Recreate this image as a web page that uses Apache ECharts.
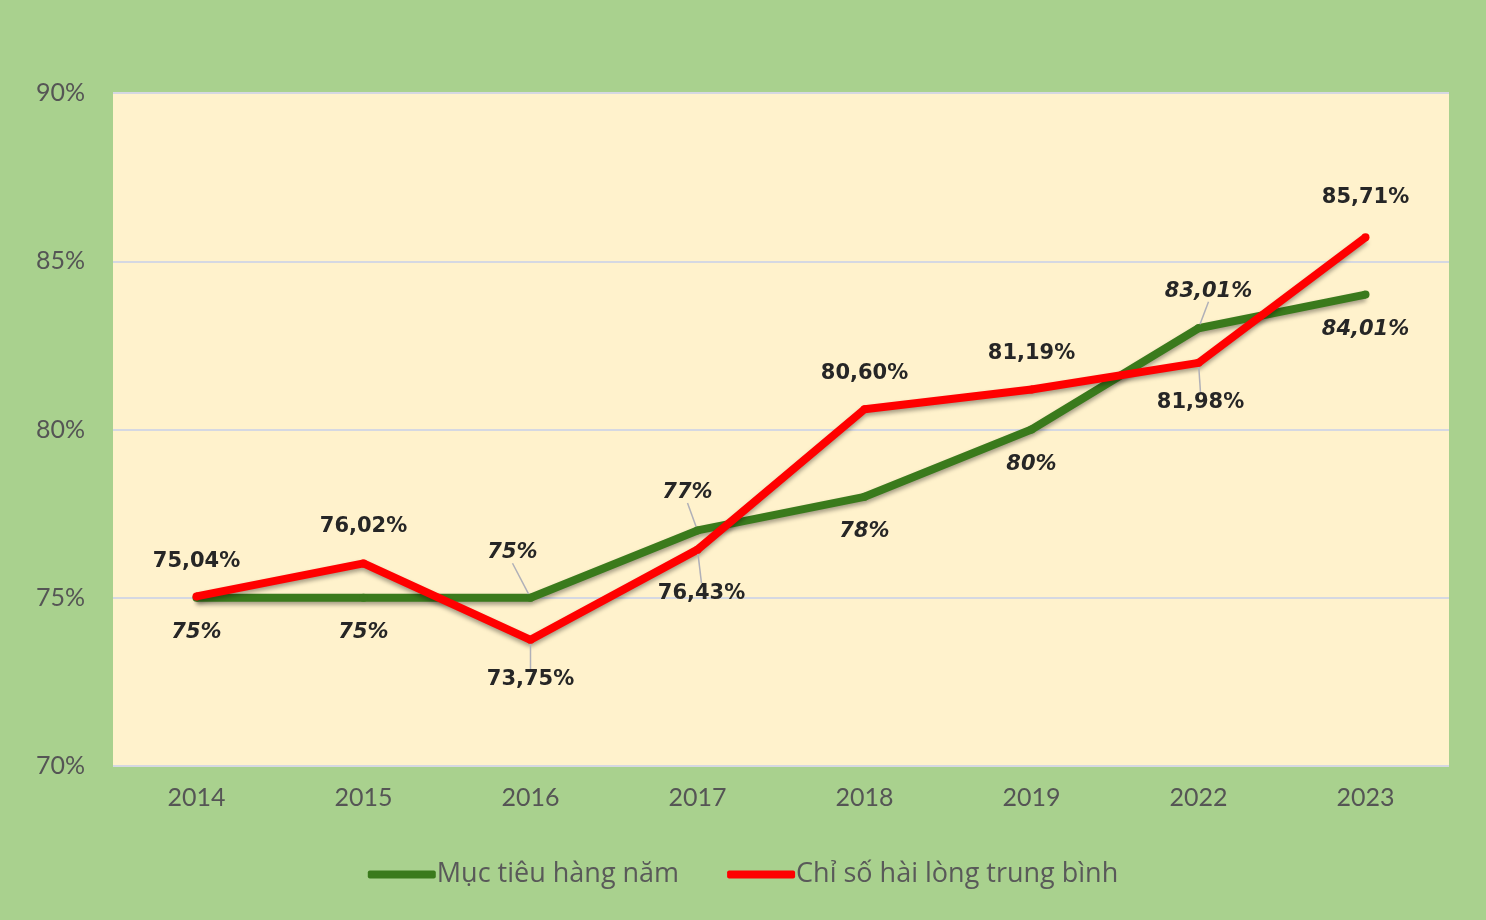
<!DOCTYPE html>
<html>
<head>
<meta charset="utf-8">
<script src="https://cdn.jsdelivr.net/npm/echarts@6/dist/echarts.min.js"></script>
<style>
html,body{margin:0;padding:0;background:#a9d18e;}
#chart{width:1486px;height:920px;}
</style>
</head>
<body>
<div id="chart"></div>
<script>
const categories = ['2014','2015','2016','2017','2018','2019','2022','2023'];
const targetName = 'Mục tiêu hàng năm';
const targetValues = [75, 75, 75, 77, 78, 80, 83.01, 84.01];
const actualName = 'Chỉ số hài lòng trung bình';
const actualValues = [75.04, 76.02, 73.75, 76.43, 80.60, 81.19, 81.98, 85.71];
const yTicks = [70, 75, 80, 85, 90];

// label offsets (pixels) relative to each point, and whether a leader line is drawn
const targetLabelOffsets = [[0,35],[0,35],[-18,-45],[-10,-38],[0,35],[0,35],[10,-37],[0,35]];
const targetLeaders = [false,false,true,true,false,false,true,false];
const actualLabelOffsets = [[0,-35],[0,-37],[0,40],[4,44],[0,-36],[0,-36],[2,40],[0,-40]];
const actualLeaders = [false,false,true,true,false,false,true,false];

const fmtTarget = v => (Number.isInteger(v) ? String(v) : v.toFixed(2).replace('.', ',')) + '%';
const fmtActual = v => v.toFixed(2).replace('.', ',') + '%';

const chart = echarts.init(document.getElementById('chart'), null, {renderer: 'canvas'});

function buildData(values, leaders) {
  return values.map((v, i) => ({
    value: v,
    labelLine: {show: leaders[i], lineStyle: {color: '#b0b0b8', width: 1.5}}
  }));
}

const labelBase = {
  show: true,
  position: 'inside',
  fontFamily: 'DejaVu Sans',
  fontWeight: 'bold',
  fontSize: 21,
  color: '#262626'
};

const option = {
  backgroundColor: '#a9d18e',
  animation: false,
  grid: {
    left: 113, right: 37, top: 93, bottom: 154,
    show: true, backgroundColor: '#fff2cc', borderWidth: 0
  },
  legend: {
    bottom: 27,
    left: 'center',
    itemWidth: 68,
    itemHeight: 8,
    itemGap: 48,
    icon: 'roundRect',
    textStyle: {fontFamily: 'Open Sans', fontSize: 27, color: '#595959', padding: [0,0,0,-4]},
    data: [targetName, actualName]
  },
  xAxis: {
    type: 'category',
    data: categories,
    boundaryGap: true,
    axisLine: {show: false},
    axisTick: {show: false},
    axisLabel: {fontFamily: 'Lato', fontSize: 25, color: '#555555', margin: 19}
  },
  yAxis: {
    type: 'value',
    min: yTicks[0],
    max: yTicks[yTicks.length - 1],
    interval: 5,
    axisLine: {show: false},
    axisTick: {show: false},
    axisLabel: {fontFamily: 'Lato', fontSize: 25, color: '#555555', margin: 28, formatter: '{value}%'},
    splitLine: {lineStyle: {color: '#d5d8e2', width: 2}}
  },
  series: [
    {
      name: targetName,
      type: 'line',
      data: buildData(targetValues, targetLeaders),
      symbol: 'circle',
      symbolSize: 8,
      color: '#3a7a1c',
      itemStyle: {color: '#3a7a1c'},
      lineStyle: {width: 8, color: '#3a7a1c', shadowColor: 'rgba(0,0,0,0.35)', shadowBlur: 4, shadowOffsetY: 3},
      label: Object.assign({}, labelBase, {fontStyle: 'italic', formatter: p => fmtTarget(p.value)}),
      labelLine: {show: false, lineStyle: {color: '#b0b0b8', width: 1.5}},
      labelLayout: p => ({dx: targetLabelOffsets[p.dataIndex][0], dy: targetLabelOffsets[p.dataIndex][1]}),
      z: 2
    },
    {
      name: actualName,
      type: 'line',
      data: buildData(actualValues, actualLeaders),
      symbol: 'circle',
      symbolSize: 8,
      color: '#ff0000',
      itemStyle: {color: '#ff0000'},
      lineStyle: {width: 8, color: '#ff0000', shadowColor: 'rgba(0,0,0,0.35)', shadowBlur: 4, shadowOffsetY: 3},
      label: Object.assign({}, labelBase, {formatter: p => fmtActual(p.value)}),
      labelLine: {show: false, lineStyle: {color: '#b0b0b8', width: 1.5}},
      labelLayout: p => ({dx: actualLabelOffsets[p.dataIndex][0], dy: actualLabelOffsets[p.dataIndex][1]}),
      z: 3
    }
  ]
};

chart.setOption(option);
</script>
</body>
</html>
